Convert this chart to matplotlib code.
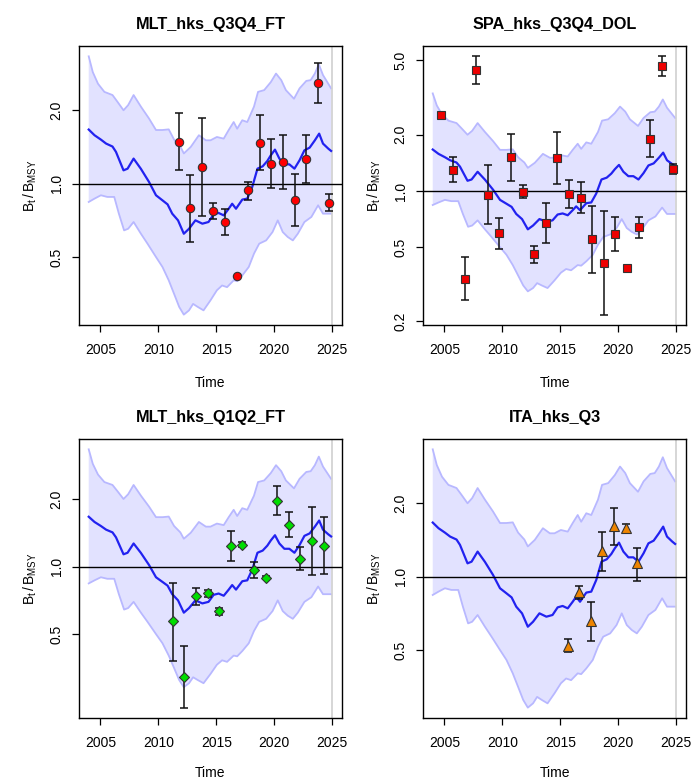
import numpy as np
import matplotlib
matplotlib.use("Agg")
import matplotlib.pyplot as plt

plt.rcParams['font.family'] = ['Liberation Sans', 'DejaVu Sans']
plt.rcParams['mathtext.fontset'] = 'custom'
plt.rcParams['mathtext.rm'] = 'Liberation Sans'
plt.rcParams['mathtext.it'] = 'Liberation Sans:italic'

# ---- model trajectory (B/Bmsy) and credible band ----
line_t = [2004.0, 2004.5, 2005.05, 2005.5, 2006.05, 2006.35, 2007.0, 2007.35, 2007.87, 2008.5,
          2009.2, 2009.8, 2010.36, 2010.8, 2011.2, 2011.7, 2012.2, 2012.65, 2013.2, 2013.8,
          2014.33, 2014.77, 2015.2, 2015.64, 2016.07, 2016.37, 2016.7, 2017.24, 2017.67, 2018.1,
          2018.55, 2019.0, 2019.4, 2019.7, 2020.06, 2020.44, 2020.87, 2021.3, 2021.74, 2022.18,
          2022.6, 2023.05, 2023.5, 2023.87, 2024.2, 2024.65, 2024.9]
line_v = [1.667, 1.58, 1.516, 1.46, 1.42, 1.35, 1.134, 1.152, 1.267, 1.15,
          1.016, 0.896, 0.854, 0.822, 0.753, 0.707, 0.623, 0.653, 0.707, 0.685,
          0.696, 0.748, 0.758, 0.741, 0.789, 0.827, 0.789, 0.86, 0.868, 0.969,
          1.152, 1.178, 1.239, 1.307, 1.379, 1.267, 1.2, 1.2, 1.152, 1.247,
          1.37, 1.405, 1.506, 1.604, 1.46, 1.393, 1.362]

upper_t = [2004.0, 2004.35, 2004.8, 2005.35, 2006.05, 2006.5, 2007.0, 2007.4, 2007.87, 2008.5,
           2009.2, 2009.8, 2010.36, 2010.9, 2011.36, 2011.9, 2012.2, 2012.8, 2013.5, 2014.1,
           2014.5, 2015.05, 2015.64, 2016.07, 2016.5, 2016.8, 2017.24, 2017.67, 2018.25, 2018.6,
           2019.13, 2019.7, 2020.15, 2020.6, 2021.0, 2021.7, 2022.18, 2022.76, 2023.14, 2023.5,
           2023.84, 2024.2, 2024.9]
upper_v = [3.33, 2.87, 2.57, 2.38, 2.31, 2.16, 2.0, 2.1, 2.31, 2.07,
           1.85, 1.66, 1.66, 1.67, 1.516, 1.42, 1.33, 1.415, 1.58, 1.506,
           1.506, 1.554, 1.53, 1.66, 1.79, 1.68, 1.82, 1.79, 2.07, 2.38,
           2.42, 2.61, 2.83, 2.66, 2.42, 2.23, 2.46, 2.64, 2.66, 2.83,
           3.09, 2.79, 2.46]

lower_t = [2004.0, 2004.5, 2005.05, 2005.6, 2006.2, 2006.6, 2007.05, 2007.4, 2007.87, 2008.5,
           2009.07, 2009.8, 2010.36, 2010.9, 2011.36, 2011.8, 2012.2, 2012.65, 2013.0, 2013.4,
           2013.9, 2014.5, 2015.05, 2015.5, 2015.93, 2016.5, 2016.8, 2017.24, 2017.8, 2018.25,
           2018.7, 2019.3, 2019.85, 2020.3, 2020.73, 2021.16, 2021.6, 2022.03, 2022.6, 2023.2,
           2023.78, 2024.2, 2024.9]
lower_v = [0.841, 0.868, 0.896, 0.882, 0.882, 0.753, 0.643, 0.653, 0.696, 0.623,
           0.567, 0.5, 0.455, 0.401, 0.353, 0.312, 0.29, 0.302, 0.321, 0.312,
           0.302, 0.332, 0.365, 0.382, 0.376, 0.401, 0.398, 0.42, 0.455, 0.516,
           0.567, 0.585, 0.633, 0.707, 0.633, 0.604, 0.585, 0.623, 0.696, 0.73,
           0.815, 0.753, 0.753]

# ---- survey indices ----
mlt34_t = [2011.75, 2012.75, 2013.75, 2014.75, 2015.75, 2016.75, 2017.75, 2018.75, 2019.75,
           2020.75, 2021.75, 2022.75, 2023.75, 2024.75]
mlt34_v = [1.488, 0.795, 1.171, 0.775, 0.696, 0.419, 0.939, 1.469, 1.208, 1.227, 0.854, 1.267, 2.6, 0.835]
mlt34_hi = [1.95, 1.085, 1.867, 0.833, 0.789, 0.419, 1.016, 1.909, 1.52, 1.59, 1.099, 1.59, 3.14, 0.904]
mlt34_lo = [1.134, 0.576, 0.737, 0.718, 0.613, 0.419, 0.86, 1.134, 0.96, 0.948, 0.668, 1.006, 2.15, 0.77]

spa_t = [2004.75, 2005.75, 2006.75, 2007.75, 2008.75, 2009.75, 2010.75, 2011.75, 2012.75, 2013.75,
         2014.75, 2015.75, 2016.75, 2017.75, 2018.75, 2019.75, 2020.75, 2021.75, 2022.75, 2023.75, 2024.75]
spa_v = [2.54, 1.296, 0.339, 4.43, 0.956, 0.596, 1.515, 0.992, 0.458, 0.674,
         1.496, 0.964, 0.913, 0.555, 0.411, 0.588, 0.387, 0.641, 1.906, 4.69, 1.312]
spa_hi = [2.54, 1.52, 0.441, 5.26, 1.372, 0.717, 2.03, 1.072, 0.505, 0.862,
          2.06, 1.15, 1.117, 0.834, 0.778, 0.726, 0.387, 0.726, 2.39, 5.26, 1.39]
spa_lo = [2.54, 1.117, 0.262, 3.73, 0.668, 0.489, 1.131, 0.921, 0.411, 0.529,
          1.09, 0.811, 0.759, 0.364, 0.2176, 0.475, 0.387, 0.56, 1.52, 4.15, 1.238]

mlt12_t = [2011.25, 2012.25, 2013.25, 2014.25, 2015.25, 2016.25, 2017.25, 2018.25, 2019.25,
           2020.25, 2021.25, 2022.25, 2023.25, 2024.25]
mlt12_v = [0.57, 0.323, 0.738, 0.759, 0.632, 1.234, 1.251, 0.966, 0.893, 1.958, 1.533, 1.086, 1.295, 1.238]
mlt12_hi = [0.848, 0.443, 0.802, 0.786, 0.655, 1.436, 1.281, 1.049, 0.91, 2.28, 1.747, 1.217, 1.835, 1.671]
mlt12_lo = [0.381, 0.235, 0.677, 0.733, 0.609, 1.06, 1.217, 0.889, 0.876, 1.689, 1.359, 0.966, 0.914, 0.924]

ita_t = [2015.625, 2016.625, 2017.625, 2018.625, 2019.625, 2020.625, 2021.625]
ita_v = [0.521, 0.862, 0.656, 1.278, 1.619, 1.579, 1.134]
ita_hi = [0.555, 0.918, 0.785, 1.53, 1.913, 1.645, 1.311]
ita_lo = [0.489, 0.81, 0.543, 1.058, 1.353, 1.506, 0.963]

titles = ["MLT_hks_Q3Q4_FT", "SPA_hks_Q3Q4_DOL", "MLT_hks_Q1Q2_FT", "ITA_hks_Q3"]
xticks = [2005, 2010, 2015, 2020, 2025]
yticks = [0.2, 0.5, 1.0, 2.0, 5.0]
ytick_labels = ["0.2", "0.5", "1.0", "2.0", "5.0"]

panels = [
    (titles[0], mlt34_t, mlt34_v, mlt34_lo, mlt34_hi, 'o', '#ff0000', 6.0),
    (titles[1], spa_t, spa_v, spa_lo, spa_hi, 's', '#ee0000', 5.6),
    (titles[2], mlt12_t, mlt12_v, mlt12_lo, mlt12_hi, 'D', '#00dd00', 5.2),
    (titles[3], ita_t, ita_v, ita_lo, ita_hi, '^', '#ee8400', 6.5),
]

rects = [(0.1138, 0.5839, 0.379, 0.3572), (0.6095, 0.5839, 0.379, 0.3572),
         (0.1138, 0.0807, 0.379, 0.3572), (0.6095, 0.0807, 0.379, 0.3572)]

fig = plt.figure(figsize=(6.94, 7.81), dpi=100)

fill_x = np.concatenate([upper_t, lower_t[::-1]])
fill_y = np.concatenate([upper_v, lower_v[::-1]])

for i, (rect, (title, t, v, lo, hi, mk, col, ms)) in enumerate(zip(rects, panels)):
    ax = fig.add_axes(rect)
    ax.set_yscale('log')
    ax.fill(fill_x, fill_y, color='#e2e2ff', lw=0, zorder=1)
    ax.plot(upper_t, upper_v, color='#b8b8ff', lw=1.3, zorder=2)
    ax.plot(lower_t, lower_v, color='#b8b8ff', lw=1.3, zorder=2)
    ax.plot(line_t, line_v, color='#2222f0', lw=1.6, zorder=3)
    ax.axhline(1.0, color='black', lw=1.0, zorder=4)
    ax.axvline(2025, color='#cfcfcf', lw=1.2, zorder=2)
    v_arr = np.array(v); lo_arr = np.array(lo); hi_arr = np.array(hi)
    ax.errorbar(t, v_arr, yerr=[v_arr - lo_arr, hi_arr - v_arr], fmt='none',
                ecolor='#111111', elinewidth=1.1, capsize=3, capthick=1.1, zorder=5)
    ax.plot(t, v, linestyle='none', marker=mk, ms=ms, mfc=col, mec='#333333',
            mew=0.8, zorder=6)
    ax.set_xticks(xticks)
    ax.set_xticklabels([str(x) for x in xticks])
    ax.set_yticks(yticks)
    ax.set_yticklabels(ytick_labels)
    ax.yaxis.set_minor_locator(matplotlib.ticker.NullLocator())
    # limits like R: data range + 4 %
    allv = np.log10(np.concatenate([upper_v, lower_v, lo_arr, hi_arr]))
    lo_l, hi_l = allv.min(), allv.max()
    ext = 0.04 * (hi_l - lo_l)
    ax.set_ylim(10 ** (lo_l - ext), 10 ** (hi_l + ext))
    ax.set_xlim(2004 - 0.04 * 21, 2025 + 0.04 * 21)
    for lab in ax.get_yticklabels():
        lab.set_rotation(90)
        lab.set_va('center')
    ax.tick_params(axis='both', labelsize=10, length=5, width=0.9, pad=8, colors='black')
    ax.tick_params(axis='y', pad=6)
    for sp in ax.spines.values():
        sp.set_linewidth(1.0)
    ax.set_title(title, fontsize=11.7, fontweight='bold', pad=12.5)
    ax.set_xlabel('Time', fontsize=10, labelpad=14 if i < 2 else 11.5)
    ax.set_ylabel(r'$\mathrm{B_t\,/\,B_{MSY}}$', fontsize=10, labelpad=8)

fig.savefig('out.png', dpi=100)
